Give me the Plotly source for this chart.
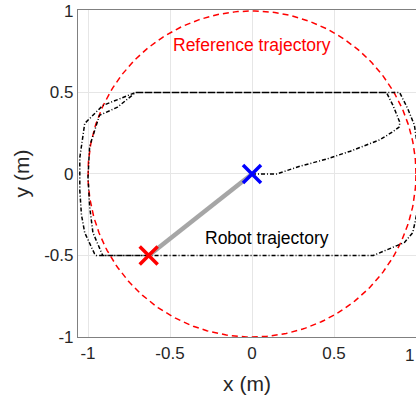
import numpy as np
import plotly.graph_objects as go

# Reference circle (radius 1, centered at origin)
ref_radius = 1.0
ref_center = (0.0, 0.0)

# Robot trajectory, single continuous path
robot_x = [0.0, 0.15, 0.3, 0.45, 0.6, 0.78, 0.86, 0.9, 0.9, 0.86, 0.82,
           -0.71, -0.82, -0.93, -0.99, -1.0, -0.99, -0.97, -0.91,
           0.74, 0.93, 0.98, 1.0, 1.02, 1.02, 0.99, 0.95, 0.9,
           -0.71, -0.91, -1.02, -1.05, -1.05, -1.04, -1.02, -0.96, -0.95, -0.63]
robot_y = [0.0, 0.0, 0.05, 0.09, 0.14, 0.21, 0.26, 0.29, 0.32, 0.42, 0.5,
           0.5, 0.41, 0.36, 0.17, -0.02, -0.2, -0.36, -0.5,
           -0.5, -0.42, -0.36, -0.27, -0.12, 0.1, 0.3, 0.4, 0.5,
           0.5, 0.42, 0.31, 0.1, -0.1, -0.25, -0.36, -0.49, -0.5, -0.5]

start_pt = (-0.63, -0.5)
end_pt = (0.0, 0.0)

tick_vals = [-1, -0.5, 0, 0.5, 1]
tick_text = ["-1", "-0.5", "0", "0.5", "1"]

theta = np.linspace(0, 2 * np.pi, 361)
cx = ref_center[0] + ref_radius * np.cos(theta)
cy = ref_center[1] + ref_radius * np.sin(theta)

fig = go.Figure()
fig.add_trace(go.Scatter(x=cx, y=cy, mode="lines",
                         line=dict(color="#ff0000", width=1.5, dash="6px,4px"),
                         hoverinfo="skip"))
fig.add_trace(go.Scatter(x=robot_x, y=robot_y, mode="lines",
                         line=dict(color="#000000", width=1.5, dash="4px,2px,1px,2px"),
                         hoverinfo="skip"))
fig.add_trace(go.Scatter(x=[start_pt[0], end_pt[0]], y=[start_pt[1], end_pt[1]],
                         mode="lines", line=dict(color="#a6a6a6", width=4.5),
                         hoverinfo="skip"))
fig.add_trace(go.Scatter(x=[start_pt[0]], y=[start_pt[1]], mode="markers",
                         marker=dict(symbol="x-thin", size=18,
                                     line=dict(color="#ff0000", width=3.5))))
fig.add_trace(go.Scatter(x=[end_pt[0]], y=[end_pt[1]], mode="markers",
                         marker=dict(symbol="x-thin", size=18,
                                     line=dict(color="#0000ff", width=3.5))))

fig.add_annotation(x=0.0, y=0.79, text="Reference trajectory", showarrow=False,
                   font=dict(color="#ff0000", size=17.5))
fig.add_annotation(x=0.09, y=-0.39, text="Robot trajectory", showarrow=False,
                   font=dict(color="#000000", size=17.5))
# last x tick label sits at the right edge of the figure
fig.add_annotation(x=tick_vals[-1], y=0, xref="x", yref="paper", yshift=-7,
                   text=tick_text[-1], showarrow=False, yanchor="top",
                   xanchor="right", font=dict(size=17, color="#262626"))

axis_common = dict(showgrid=True, gridcolor="#e6e6e6", gridwidth=1,
                   showline=True, linecolor="#808080", linewidth=1.2, mirror=True,
                   zeroline=False, ticks="", tickfont=dict(size=17, color="#262626"),
                   title_font=dict(size=21, color="#262626"))

fig.update_xaxes(range=[-1.061, 1.0], tickvals=tick_vals[:-1],
                 ticktext=tick_text[:-1], title_text="x (m)",
                 title_standoff=14, **axis_common)
fig.update_yaxes(range=[-1.0, 1.006], tickvals=tick_vals,
                 ticktext=tick_text, title_text="y (m)",
                 title_standoff=8, **axis_common)

fig.update_layout(width=416, height=403, showlegend=False,
                  margin=dict(l=78, r=0, t=10, b=66),
                  plot_bgcolor="white", paper_bgcolor="white",
                  font=dict(family="Arial, Liberation Sans, sans-serif"))

fig.write_html("out.html")
